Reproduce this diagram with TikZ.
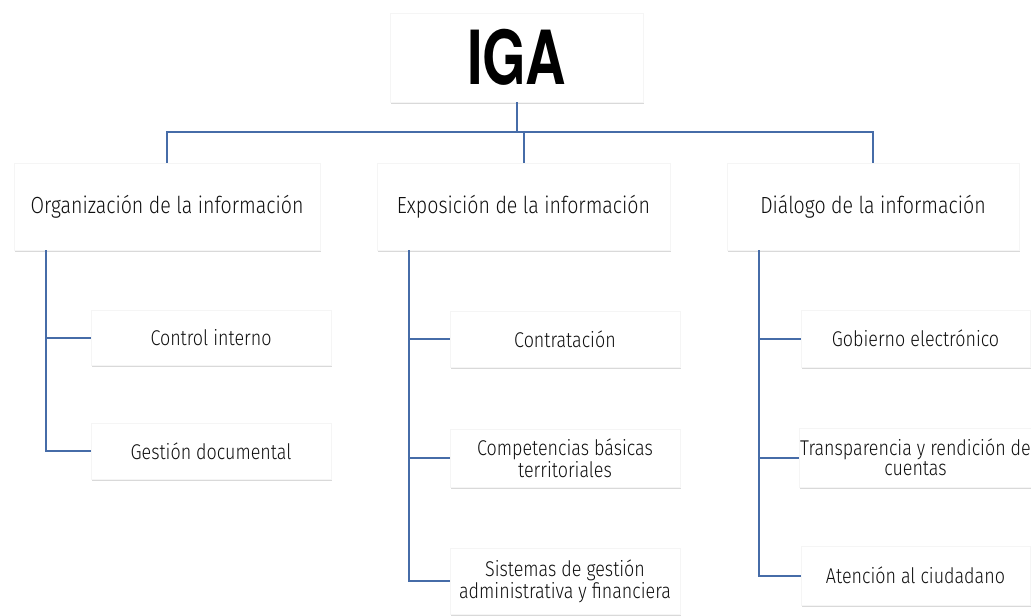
\documentclass[tikz,border=0pt]{standalone}
\usepackage{fontspec}
\setmainfont{Fira Sans}[UprightFont={* Light},FakeStretch=0.84]
\newfontfamily\igafont{TeX Gyre Heros}[FakeStretch=0.75]
\usetikzlibrary{shadows,positioning}
\definecolor{LineBlue}{RGB}{70,108,168}
\definecolor{TxtColor}{RGB}{15,15,15}

\begin{document}
\begin{tikzpicture}[x=0.75pt,y=-0.75pt,
  box/.style={fill=white,draw=black!4,align=center,text=TxtColor,inner sep=1pt,
    drop shadow={shadow xshift=1pt,shadow yshift=-1.8pt,opacity=0.3}},
  top/.style={box,font=\fontsize{17.5}{20}\selectfont,minimum height=65.25pt},
  sub/.style={box,font=\fontsize{16}{15}\selectfont,minimum width=172.5pt},
  conn/.style={draw=LineBlue,line width=1.5pt}]
\useasboundingbox (0,0) rectangle (1031,615);
\node[box,minimum width=189.75pt,minimum height=66.75pt,font=\igafont\bfseries\fontsize{56}{56}\selectfont,text=black] (iga) at (516.5,57.5) {IGA};
\node[top,minimum width=229.5pt] (org) at (167,206.5) {Organización de la información};
\node[top,minimum width=219.75pt] (expo) at (523.5,206.5) {Exposición de la información};
\node[top,minimum width=219pt] (dial) at (873,206.5) {Diálogo de la información};
\node[sub,minimum width=180pt,minimum height=41.25pt] (ci) at (211,337.5) {Control interno};
\node[sub,minimum width=180pt,minimum height=42pt] (gd) at (211,451) {Gestión documental};
\node[sub,minimum height=42pt] (contr) at (565,339) {Contratación};
\node[sub,minimum height=43.5pt] (comp) at (565,458) {Competencias básicas\\territoriales};
\node[sub,minimum height=49.5pt] (sist) at (565,581) {Sistemas de gestión\\administrativa y financiera};
\node[sub,minimum width=171.75pt,minimum height=42.75pt] (gob) at (915.5,338.5) {Gobierno electrónico};
\node[sub,minimum width=171.75pt,minimum height=44.25pt] (transp) at (915.5,457.5) {Transparencia y rendición de\\cuentas};
\node[sub,minimum width=171.75pt,minimum height=44.25pt] (aten) at (915.5,575.5) {Atención al ciudadano};
% tree lines
\coordinate (bar) at (0,132);
\draw[conn] (iga.south) -- (iga.south |- bar);
\draw[conn] (org.north) -- (org.north |- bar) -| (dial.north);
\draw[conn] (expo.north |- bar) -- (expo.north);
\foreach \p/\c in {org/ci,org/gd,expo/contr,expo/comp,expo/sist,dial/gob,dial/transp,dial/aten}
  \draw[conn] ([xshift=24pt]\p.south west) |- (\c.west);
\end{tikzpicture}
\end{document}
